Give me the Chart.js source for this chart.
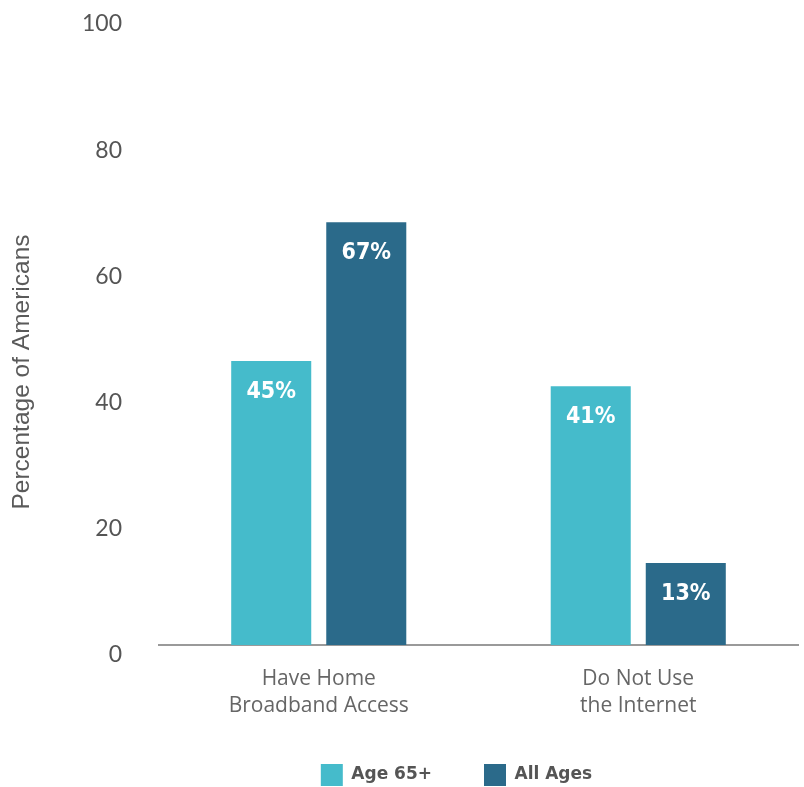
<!DOCTYPE html>
<html>
<head>
<meta charset="utf-8">
<script src="https://cdn.jsdelivr.net/npm/chart.js@4.4.0/dist/chart.umd.min.js"></script>
<style>
  html, body { margin: 0; padding: 0; background: #fff; }
  #wrap { width: 804px; height: 787px; position: relative; }
</style>
</head>
<body>
<div id="wrap"><canvas id="chart"></canvas></div>
<script>
const categories = [['Have Home', 'Broadband Access'], ['Do Not Use', 'the Internet']];
const age65Values = [45, 41];
const allAgesValues = [67, 13];
const seriesNames = ['Age 65+', 'All Ages'];
const yTitle = 'Percentage of Americans';

const teal = '#45bbcb';
const navy = '#2b6a8a';

// white % labels near the top of each bar
const barLabels = {
    id: 'barLabels',
    afterDatasetsDraw(chart) {
        const ctx = chart.ctx;
        ctx.save();
        ctx.font = 'bold 23px "DejaVu Sans Condensed", "DejaVu Sans", sans-serif';
        ctx.fontStretch = 'condensed';
        ctx.fillStyle = '#ffffff';
        ctx.textAlign = 'center';
        ctx.textBaseline = 'middle';
        chart.data.datasets.forEach((ds, i) => {
            chart.getDatasetMeta(i).data.forEach((bar, j) => {
                ctx.fillText(ds.data[j] + '%', bar.x, bar.y + 31);
            });
        });
        ctx.restore();
    }
};

// y title sits lower than the chart area centre in the original
const yTitlePlugin = {
    id: 'yTitle',
    afterLayout(chart) {
        // legend in the original is a bit left of the plot centre
        chart.legend.left -= 22;
        chart.legend.right -= 22;
    },
    afterDraw(chart) {
        const ctx = chart.ctx;
        ctx.save();
        ctx.translate(22, 372);
        ctx.rotate(-Math.PI / 2);
        ctx.font = '24.5px "Liberation Sans", Arial, sans-serif';
        ctx.fillStyle = '#5a5a5a';
        ctx.textAlign = 'center';
        ctx.textBaseline = 'middle';
        ctx.fillText(yTitle, 0, 0);
        ctx.restore();
    }
};

new Chart(document.getElementById('chart'), {
    type: 'bar',
    data: {
        labels: categories,
        datasets: [
            {
                label: seriesNames[0],
                data: age65Values,
                backgroundColor: teal,
                categoryPercentage: 0.595,
                barPercentage: 0.842
            },
            {
                label: seriesNames[1],
                data: allAgesValues,
                backgroundColor: navy,
                categoryPercentage: 0.595,
                barPercentage: 0.842
            }
        ]
    },
    options: {
        responsive: true,
        maintainAspectRatio: false,
        animation: false,
        layout: { padding: { top: 0, right: 6, bottom: -9, left: 0 } },
        plugins: {
            tooltip: { enabled: false },
            legend: {
                position: 'bottom',
                fullSize: false,
                labels: {
                    boxWidth: 22,
                    boxHeight: 22,
                    padding: 52,
                    color: '#555',
                    font: { family: '"DejaVu Sans"', size: 17, weight: 'bold' }
                }
            }
        },
        scales: {
            x: {
                grid: { display: false, drawTicks: false },
                border: { display: true, color: '#9a9a9a', width: 2 },
                ticks: {
                    color: '#666',
                    padding: 20,
                    font: { family: '"Open Sans"', size: 21, lineHeight: 1.3 }
                },
                afterFit(scale) { scale.height = 67; }
            },
            y: {
                min: 0,
                max: 100,
                grid: { display: false, drawTicks: false },
                border: { display: false },
                ticks: {
                    stepSize: 20,
                    color: '#555',
                    padding: 37,
                    labelOffset: 10,
                    font: { family: 'Lato', size: 23, lineHeight: 1.2 }
                },
                afterFit(scale) {
                    scale.width = 159;
                    // tick padding would otherwise push the plot top down
                    scale.paddingTop = 14;
                    scale.paddingBottom = 0;
                }
            }
        }
    },
    plugins: [barLabels, yTitlePlugin]
});
</script>
</body>
</html>
